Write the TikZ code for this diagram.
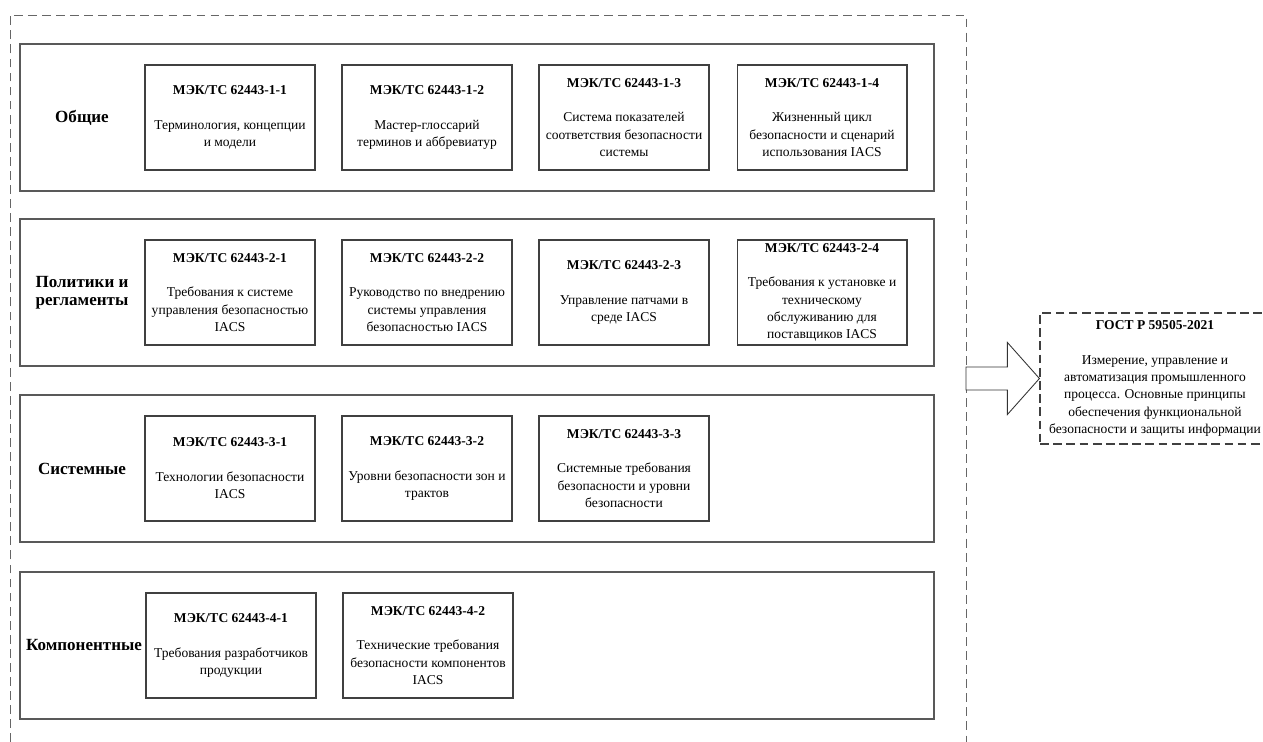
\documentclass[tikz,border=0pt]{standalone}
\usepackage{fontspec}
\setmainfont{Liberation Serif}
\usetikzlibrary{calc}

\begin{document}
\begin{tikzpicture}[x=0.02cm,y=-0.02cm,
  grp/.style={draw=black!65,line width=0.9pt,minimum width=18.28cm,minimum height=2.94cm,inner sep=0pt},
  std/.style={draw=black!75,line width=0.6pt,minimum width=3.4cm,minimum height=2.1cm,inner sep=0pt,align=center,font=\fontsize{7.7}{9.85}\selectfont},
  lbl/.style={align=center,font=\fontsize{9.7}{10}\selectfont\bfseries},
  frm/.style={draw=black!60,line width=0.5pt,dash pattern=on 5pt off 3pt},
  gst/.style={draw=black!75,line width=0.7pt,dash pattern=on 5pt off 2.5pt,minimum width=4.6cm,minimum height=2.62cm,inner sep=0pt,align=center,font=\fontsize{7.7}{9.85}\selectfont},
  blockarr/.style={draw=black!80,line width=0.5pt,fill=white}]

\useasboundingbox (0,0) rectangle (1263,742);

% outer dashed frame, open at the bottom
\draw[frm] (10,742)--(10,15)--(966,15)--(966,742);

% groups
\node[grp] (g1) at (477,117.5) {};
\node[grp] (g2) at (477,292.5) {};
\node[grp] (g3) at (477,468.5) {};
\node[grp] (g4) at (477,645.5) {};

\node[lbl] (l1) at (82,117.5) {Общие};
\node[lbl] (l2) at (82,292.5) {Политики и\\регламенты};
\node[lbl] (l3) at (82,468.5) {Системные};
\node[lbl] (l4) at (84,645.5) {Компонентные};

% part 1
\node[std] (b11) at (230,117.5) {\textbf{МЭК/ТС 62443-1-1}\\[9.85pt]Терминология, концепции\\и модели};
\node[std] (b12) at (427,117.5) {\textbf{МЭК/ТС 62443-1-2}\\[9.85pt]Мастер-глоссарий\\терминов и аббревиатур};
\node[std] (b13) at (624,117.5) {\textbf{МЭК/ТС 62443-1-3}\\[9.85pt]Система показателей\\соответствия безопасности\\системы};
\node[std] (b14) at (822,117.5) {\textbf{МЭК/ТС 62443-1-4}\\[9.85pt]Жизненный цикл\\безопасности и сценарий\\использования IACS};

% part 2
\node[std] (b21) at (230,292.5) {\textbf{МЭК/ТС 62443-2-1}\\[9.85pt]Требования к системе\\управления безопасностью\\IACS};
\node[std] (b22) at (427,292.5) {\textbf{МЭК/ТС 62443-2-2}\\[9.85pt]Руководство по внедрению\\системы управления\\безопасностью IACS};
\node[std] (b23) at (624,292.5) {\textbf{МЭК/ТС 62443-2-3}\\[9.85pt]Управление патчами в\\среде IACS};
\node[std] (b24) at (822,292.5) {\textbf{МЭК/ТС 62443-2-4}\\[9.85pt]Требования к установке и\\техническому\\обслуживанию для\\поставщиков IACS};

% part 3
\node[std] (b31) at (230,468.5) {\textbf{МЭК/ТС 62443-3-1}\\[9.85pt]Технологии безопасности\\IACS};
\node[std] (b32) at (427,468.5) {\textbf{МЭК/ТС 62443-3-2}\\[9.85pt]Уровни безопасности зон и\\трактов};
\node[std] (b33) at (624,468.5) {\textbf{МЭК/ТС 62443-3-3}\\[9.85pt]Системные требования\\безопасности и уровни\\безопасности};

% part 4
\node[std] (b41) at (231,645.5) {\textbf{МЭК/ТС 62443-4-1}\\[9.85pt]Требования разработчиков\\продукции};
\node[std] (b42) at (428,645.5) {\textbf{МЭК/ТС 62443-4-2}\\[9.85pt]Технические требования\\безопасности компонентов\\IACS};

% national standard
\node[gst] (gost) at (1155,378.5) {\textbf{ГОСТ Р 59505-2021}\\[9.85pt]Измерение, управление и\\автоматизация промышленного\\процесса. Основные принципы\\обеспечения функциональной\\безопасности и защиты информации};

\coordinate (arrS) at (966,378.5);
\draw[blockarr] ($(arrS)+(0,-11.5)$)--($(gost.west)+(-32,-11.5)$)--($(gost.west)+(-32,-36)$)--(gost.west)
  --($(gost.west)+(-32,36)$)--($(gost.west)+(-32,11.5)$)--($(arrS)+(0,11.5)$)--cycle;

\end{tikzpicture}
\end{document}
